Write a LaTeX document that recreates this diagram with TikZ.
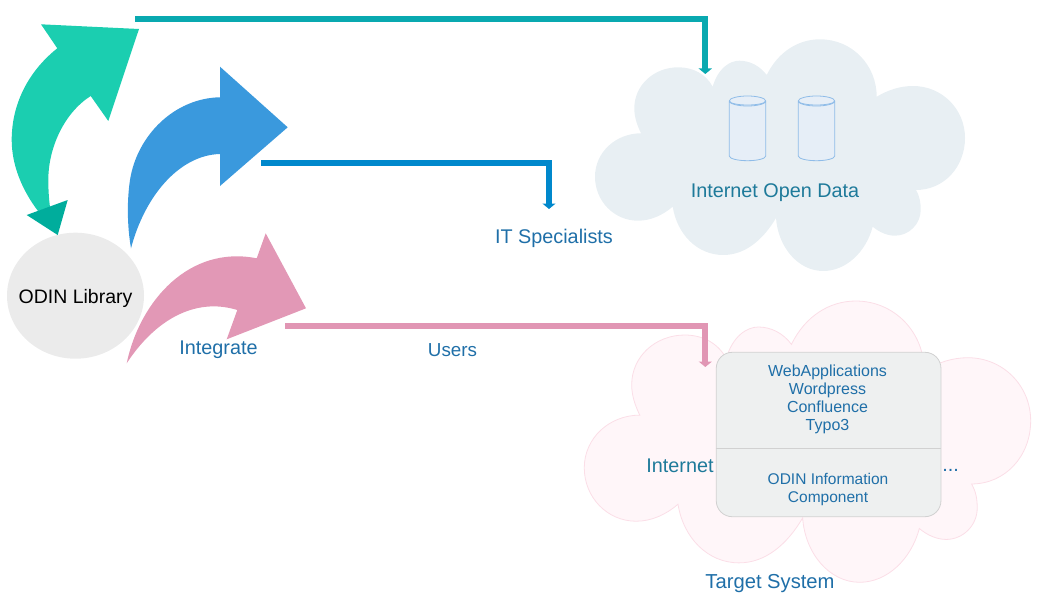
\documentclass[tikz,border=0pt]{standalone}
\usepackage{fontspec}
\setmainfont{Liberation Sans}
\usepackage{tikz}
\usetikzlibrary{arrows.meta, shapes.geometric, positioning, calc}
\definecolor{greenarrow}{HTML}{1BCEB0}
\definecolor{greentip}{HTML}{00AD9C}
\definecolor{bluearrow}{HTML}{3A99DD}
\definecolor{pinkarrow}{HTML}{E298B6}
\definecolor{tealline}{HTML}{09A9B0}
\definecolor{blueline}{HTML}{0088CC}
\definecolor{pinkline}{HTML}{E196B4}
\definecolor{labelblue}{HTML}{1F6FA8}
\definecolor{labelteal}{HTML}{1E7A9A}
\definecolor{cloudgrey}{HTML}{E8EFF3}
\definecolor{cloudpink}{HTML}{FFF6F9}
\definecolor{cloudedge}{HTML}{FBDEE7}
\definecolor{canedge}{HTML}{8FBCE8}
\definecolor{canfill}{HTML}{E6EEF7}
\definecolor{panelfill}{HTML}{EEF0F0}
\newcommand{\cloudoutline}{(712.7,86.7) .. controls (718,68) and (730,60.7) .. (739.3,60.7)
    .. controls (750,60.7) and (760,66) .. (766.7,75)
    .. controls (778,52) and (798,39.3) .. (820,39.3)
    .. controls (852,39.3) and (876.7,65) .. (876.7,96.7)
    .. controls (888,90) and (900,86) .. (913,86)
    .. controls (942,86) and (965,109) .. (965,138)
    .. controls (965,167) and (944,190) .. (916,190)
    .. controls (920,197) and (920.7,203) .. (920.7,210)
    .. controls (920.7,224) and (909,235.7) .. (895,235.7)
    .. controls (887,235.7) and (879,232) .. (872.7,226.7)
    .. controls (866,252) and (846,271) .. (823.3,271)
    .. controls (798,271) and (778,247) .. (776,218)
    .. controls (763,240) and (745,255) .. (723.3,255)
    .. controls (697,255) and (677,234) .. (672.7,206.7)
    .. controls (663,215) and (651,220.7) .. (638,220.7)
    .. controls (614,220.7) and (595,201) .. (595,176.7)
    .. controls (595,152) and (616,133.3) .. (641,133.3)
    .. controls (637,125) and (634.3,117) .. (634.3,108.3)
    .. controls (634.3,85) and (654,67.3) .. (678.3,67.3)
    .. controls (693,67.3) and (706,74) .. (712.7,86.7) -- cycle}

\begin{document}
\begin{tikzpicture}[x=1pt, y=-1pt,
    library/.style={ellipse, fill=black!8, minimum width=137pt, minimum height=126pt,
                    inner xsep=-11pt, inner ysep=0pt, outer sep=0pt, text height=19pt, text depth=4.2pt,
                    font=\fontsize{19.5}{20}\selectfont},
    panel/.style={rectangle, draw=black!18, fill=panelfill, line width=0.8pt, rounded corners=16pt,
                  minimum width=224.7pt, minimum height=164.4pt},
    label/.style={font=\fontsize{19.8}{20}\selectfont, text=labelblue, inner sep=0pt},
    panellabel/.style={font=\fontsize{16}{18}\selectfont, text=labelblue, align=center, inner sep=0pt},
    elbow/.style={-{Triangle[width=13pt,length=5.5pt]}, line width=6pt}]

    \useasboundingbox (0,0) rectangle (1038,615);

    % Clouds
    \fill[cloudgrey] \cloudoutline;
    \begin{scope}[shift={(-133.6,253.3)}, xscale=1.2065, yscale=1.214]
        \draw[draw=cloudedge, fill=cloudpink, line width=0.8pt] \cloudoutline;
    \end{scope}

    % Cylinders in the upper cloud
    \foreach \cx in {747.5, 816.5} {
        \draw[draw=canedge, fill=canfill, line width=0.8pt]
            (\cx-18.2,101) -- (\cx-18.2,156) arc[start angle=180, end angle=360, x radius=18.2, y radius=-4.7]
            -- (\cx+18.2,101) arc[start angle=0, end angle=360, x radius=18.2, y radius=-5];
        \draw[draw=canedge, line width=0.8pt]
            (\cx-18.2,101) arc[start angle=180, end angle=360, x radius=18.2, y radius=-4];
    }

    % Library and block arrows
    \node[library] (odin) at (75.5,295.7) {ODIN Library};

    \fill[greenarrow] (41,24.3) -- (139,29) -- (108.3,121) -- (90.7,96)
        .. controls (64,113) and (48.3,148) .. (48.3,180)
        .. controls (48.3,190) and (49,200) .. (50,207) -- (38,211)
        .. controls (22,190) and (11.7,165) .. (11.7,140)
        .. controls (11.7,102) and (30,70) .. (57.3,48.3) -- cycle;
    \fill[greentip] (67.7,200) -- (26.7,215) -- (57.7,235) -- cycle;

    \fill[bluearrow] (220,66.7) -- (287.7,127.3) -- (220,186) -- (220,154)
        .. controls (180,155) and (145,195) .. (131,248.3)
        .. controls (127,225) and (127,200) .. (130,180)
        .. controls (137,135) and (175,98) .. (220,97.3) -- cycle;

    \fill[pinkarrow] (265.7,233.3) -- (306,308.3) -- (226.7,339.3) -- (237.3,310)
        .. controls (195,297) and (155,320) .. (126.7,363.3)
        .. controls (140,300) and (190,245) .. (256.7,258.3) -- cycle;

    % Labels
    \node[label] (integrate) at (218.5,349.5) {Integrate};
    \node[label, font=\fontsize{18.8}{20}\selectfont] (users) at (452.5,350.5) {Users};
    \node[label] (its) at (554,238) {IT Specialists};
    \node[label, text=labelteal] (opendata) at (775,192.5) {Internet Open Data};
    \node[label, text=labelteal] (internet) at (680,465.5) {Internet};
    \node[label, font=\fontsize{20.2}{20}\selectfont] (target) at (770,583.5) {Target System};

    % Panel in the lower cloud
    \node[panel] (webpanel) at (828.6,434.5) {};
    \draw[draw=black!18, line width=0.8pt] (webpanel.west |- 0,448.7) -- (webpanel.east |- 0,448.7);
    \node[panellabel] (webapps) at (827.5,399) {WebApplications\\Wordpress\\Confluence\\Typo3};
    \node[panellabel, font=\fontsize{15.5}{18}\selectfont] (component) at (828,489) {ODIN Information\\Component};
    \node[label] (dots) at (950.5,470.5) {...};

    % Elbow connectors
    \coordinate (tealstart) at (135,19.5);
    \coordinate (tealend) at (705.3,74);
    \coordinate (bluestart) at (261,163.3);
    \coordinate (blueend) at (549,209);
    \coordinate (pinkstart) at (285,325.5);
    \coordinate (pinkend) at (705.3,367);
    \draw[elbow, tealline] (tealstart) -| (tealend);
    \draw[elbow, blueline] (bluestart) -| (blueend);
    \draw[elbow, pinkline] (pinkstart) -| (pinkend);

\end{tikzpicture}
\end{document}
